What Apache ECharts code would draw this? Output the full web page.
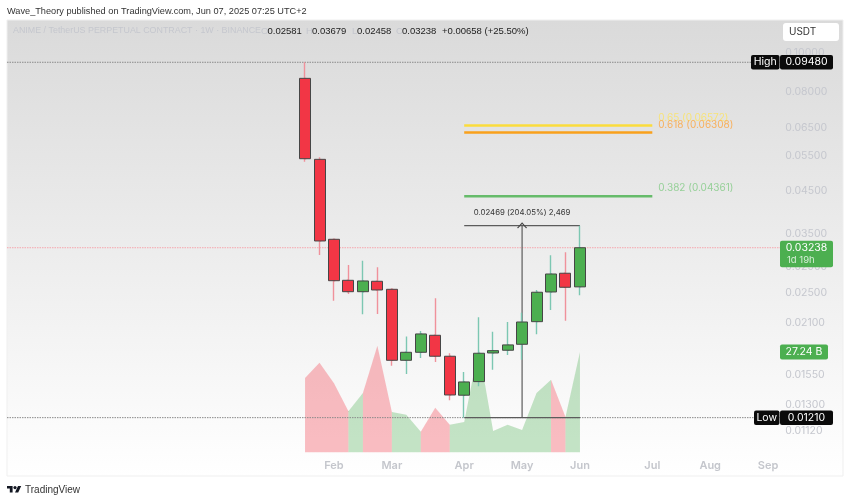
<!DOCTYPE html>
<html>
<head>
<meta charset="utf-8">
<style>
  html, body { margin: 0; padding: 0; background: #fff; }
  #main { width: 850px; height: 502px; }
</style>
<script src="https://cdn.jsdelivr.net/npm/echarts@6/dist/echarts.min.js"></script>
</head>
<body>
<div id="main"></div>
<script>
// weeks on the time axis, the candles start at 2025-01-20
const weeks = [
  '2024-09-02','2024-09-09','2024-09-16','2024-09-23','2024-09-30','2024-10-07','2024-10-14','2024-10-21',
  '2024-10-28','2024-11-04','2024-11-11','2024-11-18','2024-11-25','2024-12-02','2024-12-09','2024-12-16',
  '2024-12-23','2024-12-30','2025-01-06','2025-01-13','2025-01-20','2025-01-27','2025-02-03','2025-02-10',
  '2025-02-17','2025-02-24','2025-03-03','2025-03-10','2025-03-17','2025-03-24','2025-03-31','2025-04-07',
  '2025-04-14','2025-04-21','2025-04-28','2025-05-05','2025-05-12','2025-05-19','2025-05-26','2025-06-02',
  '2025-06-09','2025-06-16','2025-06-23','2025-06-30','2025-07-07','2025-07-14','2025-07-21','2025-07-28',
  '2025-08-04','2025-08-11','2025-08-18','2025-08-25','2025-09-01'
]
const monthLabels = {'2025-02-03': 'Feb', '2025-03-03': 'Mar', '2025-04-07': 'Apr', '2025-05-05': 'May', '2025-06-02': 'Jun', '2025-07-07': 'Jul', '2025-08-04': 'Aug', '2025-09-01': 'Sep'}
const firstWeek = 20

const opens =  [0.08637,0.05403,0.03400,0.02681,0.02510,0.02666,0.02545,0.01687,0.01767,0.01950,0.01727,0.01378,0.01491,0.01760,0.01788,0.01851,0.02110,0.02506,0.02793,0.02581]
const closes = [0.05423,0.03367,0.02675,0.02510,0.02671,0.02535,0.01687,0.01767,0.01965,0.01727,0.01380,0.01488,0.01757,0.01784,0.01844,0.02106,0.02502,0.02781,0.02575,0.03238]
const lows =   [0.05329,0.03105,0.02383,0.02477,0.02203,0.02206,0.01635,0.01559,0.01710,0.01671,0.01339,0.01210,0.01452,0.01598,0.01740,0.01691,0.01962,0.02258,0.02122,0.02458]
const highs =  [0.09480,0.05466,0.03400,0.02930,0.03004,0.02891,0.02560,0.01935,0.01999,0.02416,0.01757,0.01577,0.02165,0.01991,0.02106,0.02223,0.02535,0.03099,0.03154,0.03679]
// volume in billions
const volumes = [20.2,24.3,18.8,11.2,16.1,28.9,11.0,10.2,5.6,12.1,7.5,8.3,28.3,5.8,7.5,6.1,16.1,19.7,9.6,27.24]

const priceTicks = [0.1,0.08,0.065,0.055,0.045,0.035,0.029,0.025,0.021,0.0155,0.013,0.0112]
const allTimeHigh = 0.0948
const allTimeLow = 0.0121
const lastPrice = 0.03238
const fibLevels = [
  {name: '0.65 (0.06572)', value: 0.06572, line: '#fbdc3c', text: '#f7e37a'},
  {name: '0.618 (0.06308)', value: 0.06308, line: '#f9a11c', text: '#f8b05c'},
  {name: '0.382 (0.04361)', value: 0.04361, line: '#66bb6a', text: '#96d098'}
]
const fibFrom = '2025-04-07'
const fibTo = '2025-07-07'
const measureFrom = '2025-04-07'
const measureMid = '2025-05-05'
const measureTo = '2025-06-02'
const measureText = '0.02469 (204.05%) 2,469'

const RED = '#f23645', GREEN = '#4caf50'
const blank = () => ['-', '-', '-', '-']

const isUp = i => closes[i] >= opens[i]
const candleAt = (week, fn) => (week < firstWeek || week >= firstWeek + opens.length) ? blank() : fn(week - firstWeek)

// wicks sit in their own series, the body border is darker than the wick
const wickData = weeks.map((w, k) => candleAt(k, i => [opens[i], closes[i], lows[i], highs[i]]))
const bodyData = weeks.map((w, k) => candleAt(k, i => [opens[i], closes[i], Math.min(opens[i], closes[i]), Math.max(opens[i], closes[i])]))

// one area per run of same coloured segments, a segment takes the colour of its right candle
function volumeSeries() {
  const out = []
  let start = 0
  for (let i = 1; i < volumes.length; i++) {
    if (i === volumes.length - 1 || isUp(i + 1) !== isUp(i)) {
      const up = isUp(i)
      const data = weeks.map((w, k) => {
        const idx = k - firstWeek
        return idx >= start && idx <= i ? volumes[idx] : null
      })
      out.push({
        type: 'line', xAxisIndex: 1, yAxisIndex: 1, data, z: 1, silent: true,
        symbol: 'none', lineStyle: {width: 0},
        areaStyle: {color: up ? 'rgba(76,175,80,0.32)' : 'rgba(242,54,69,0.32)', opacity: 1}
      })
      start = i
    }
  }
  return out
}

const fibSeries = fibLevels.map(f => ({
  type: 'line', z: 5, silent: true, symbol: 'none',
  lineStyle: {color: f.line, width: 2.5},
  data: [[fibFrom, f.value], {
    value: [fibTo, f.value], symbol: 'circle', symbolSize: 0,
    label: {show: true, position: 'right', distance: 6, offset: [0, -8], formatter: f.name, color: f.text, fontSize: 10, fontFamily: 'Inter'}
  }]
}))

const measureLine = {color: '#5c5c5c', width: 1.2}
const measureSeries = [
  {type: 'line', z: 6, silent: true, symbol: 'none', lineStyle: measureLine,
    data: [[measureFrom, highs[19]], {
      value: [measureMid, highs[19]], symbol: 'circle', symbolSize: 0,
      label: {show: true, position: 'top', distance: 9, formatter: measureText, color: '#333', fontSize: 7.8, fontFamily: 'Inter'}
    }, [measureTo, highs[19]]]},
  {type: 'line', z: 6, silent: true, symbol: 'none', lineStyle: measureLine,
    data: [[measureFrom, allTimeLow], [measureTo, allTimeLow]]},
  {type: 'line', z: 6, silent: true, symbol: 'none', lineStyle: measureLine,
    data: [[measureMid, allTimeLow], {
      value: [measureMid, highs[19]], symbol: 'path://M0 10L10 0L20 10', symbolSize: [9, 5], symbolKeepAspect: false,
      itemStyle: {color: 'transparent', borderColor: '#444', borderWidth: 1}
    }]}
]

const chart = echarts.init(document.getElementById('main'), null, {renderer: 'canvas'})

const gridLeft = 8.4, gridWidth = 14.47 * weeks.length

const option = {
  animation: false,
  grid: [
    {left: gridLeft, top: 20, width: gridWidth, height: 456, outerBoundsMode: 'none'},
    {left: gridLeft, top: 340, width: gridWidth, height: 112.5, outerBoundsMode: 'none'}
  ],
  xAxis: [
    {type: 'category', data: weeks, gridIndex: 0,
      axisLine: {show: false}, axisTick: {show: false}, splitLine: {show: false},
      axisLabel: {inside: true, margin: 5, interval: 0, color: '#c4c6cc', fontSize: 11, fontWeight: 600, fontFamily: 'Inter',
        formatter: v => monthLabels[v] || ''}},
    {type: 'category', data: weeks, gridIndex: 1, show: false}
  ],
  yAxis: [
    {type: 'log', logBase: 10, gridIndex: 0, position: 'right', min: 0.00863, max: 0.1211,
      axisLine: {show: false}, axisTick: {show: false}, splitLine: {show: false}, minorTick: {show: false}, minorSplitLine: {show: false},
      axisLabel: {customValues: priceTicks, showMinLabel: true, showMaxLabel: true, margin: 10, color: '#c5c7ce', fontSize: 10.5, fontFamily: 'Inter',
        formatter: v => Number(v).toFixed(5)}},
    {type: 'value', gridIndex: 1, min: 0, max: 30.49, show: false}
  ],
  series: [
    ...volumeSeries(),
    {type: 'candlestick', z: 7, silent: true, barWidth: 1.5, data: wickData,
      itemStyle: {color: '#7cc7b2', color0: '#f0919b', borderColor: '#7cc7b2', borderColor0: '#f0919b', borderWidth: 1.4}},
    {type: 'candlestick', z: 8, silent: true, barWidth: 11.5, data: bodyData,
      itemStyle: {color: GREEN, color0: RED, borderColor: '#464646', borderColor0: '#464646', borderWidth: 1}},
    ...fibSeries,
    ...measureSeries
  ]
}
chart.setOption(option)

// tags and level lines on the price scale follow the axis
const px = v => chart.convertToPixel({yAxisIndex: 0}, v)
const volY = v => chart.convertToPixel({yAxisIndex: 1}, v)

function tag(x, y, w, h, fill, text, color, fontSize) {
  return [
    {type: 'rect', z: 100, shape: {x, y: y - h / 2, width: w, height: h, r: 2}, style: {fill}},
    {type: 'text', z: 101, style: {x: x + w / 2, y, text, fill: color, align: 'center', verticalAlign: 'middle', font: `${fontSize || 10.5}px Inter`}}
  ]
}

function level(value, color) {
  return {type: 'line', z: 3, silent: true, shape: {x1: 7, y1: px(value), x2: 781, y2: px(value)},
    style: {stroke: color, lineWidth: 1, lineDash: [1.5, 1]}}
}

const headFont = '9.5px "Liberation Sans"'
chart.setOption({
  graphic: [
    {type: 'rect', z: -10, shape: {x: 7, y: 20, width: 836, height: 456},
      style: {stroke: '#efefef', lineWidth: 1, fill: {type: 'linear', x: 0, y: 0, x2: 0, y2: 1, colorStops: [{offset: 0, color: '#dadada'}, {offset: 1, color: '#ffffff'}]}}},
    level(allTimeHigh, '#8a8a8a'),
    level(lastPrice, '#f6a6ad'),
    level(allTimeLow, '#8a8a8a'),
    {type: 'text', z: 100, style: {x: 7, y: 11, text: 'Wave_Theory published on TradingView.com, Jun 07, 2025 07:25 UTC+2', fill: '#333', verticalAlign: 'middle', font: '9.2px "Liberation Sans"'}},
    {type: 'text', z: 100, style: {x: 13, y: 31, verticalAlign: 'middle', text: 'ANIME / TetherUS PERPETUAL CONTRACT · 1W · BINANCE', fill: '#c5c7ce', font: '8.9px "Liberation Sans"'}},
    ...[[261, 'O', 1], [267.5, '0.02581'], [306, 'H', 1], [312, '0.03679'], [352, 'L', 1], [357, '0.02458'], [396, 'C', 1], [402, '0.03238'], [442, '+0.00658 (+25.50%)']].map(t => (
      {type: 'text', z: 100, style: {x: t[0], y: 31, text: t[1], fill: t[2] ? '#c5c7ce' : '#222', verticalAlign: 'middle', font: headFont}})),
    {type: 'rect', z: 100, shape: {x: 783, y: 23, width: 56, height: 18, r: 3}, style: {fill: '#fff'}},
    {type: 'text', z: 101, style: {x: 789, y: 32, text: 'USDT', fill: '#333', verticalAlign: 'middle', font: '10px Inter'}},
    ...tag(751, px(allTimeHigh), 28.5, 14.5, '#0a0a0a', 'High', '#fff'),
    ...tag(780, px(allTimeHigh), 53, 14.5, '#0a0a0a', '0.09480', '#fff'),
    ...tag(754, px(allTimeLow), 25.5, 14.5, '#0a0a0a', 'Low', '#fff'),
    ...tag(780, px(allTimeLow), 53, 14.5, '#0a0a0a', '0.01210', '#fff'),
    {type: 'rect', z: 100, shape: {x: 780, y: px(lastPrice) - 7, width: 53, height: 26.5, r: 2}, style: {fill: GREEN}},
    {type: 'text', z: 101, style: {x: 806.5, y: px(lastPrice), text: '0.03238', fill: '#fff', align: 'center', verticalAlign: 'middle', font: '10.5px Inter'}},
    {type: 'text', z: 101, style: {x: 787, y: px(lastPrice) + 12, text: '1d 19h', fill: '#d7efd8', verticalAlign: 'middle', font: '9.5px Inter'}},
    ...tag(780, volY(volumes[19]), 48, 15, GREEN, '27.24 B', '#fff'),
    // TradingView mark
    {type: 'polygon', z: 100, shape: {points: [[12.6, 492.5], [9.8, 492.5], [9.8, 488.6], [7, 488.6], [7, 486], [12.6, 486]]}, style: {fill: '#131722'}},
    {type: 'polygon', z: 100, shape: {points: [[18.2, 492.5], [15, 492.5], [18, 486], [21.2, 486]]}, style: {fill: '#131722'}},
    {type: 'circle', z: 100, shape: {cx: 15, cy: 487.6, r: 1.6}, style: {fill: '#131722'}},
    {type: 'text', z: 100, style: {x: 25, y: 490, text: 'TradingView', fill: '#333', verticalAlign: 'middle', font: '10px "Liberation Sans"'}}
  ]
})
</script>
</body>
</html>
